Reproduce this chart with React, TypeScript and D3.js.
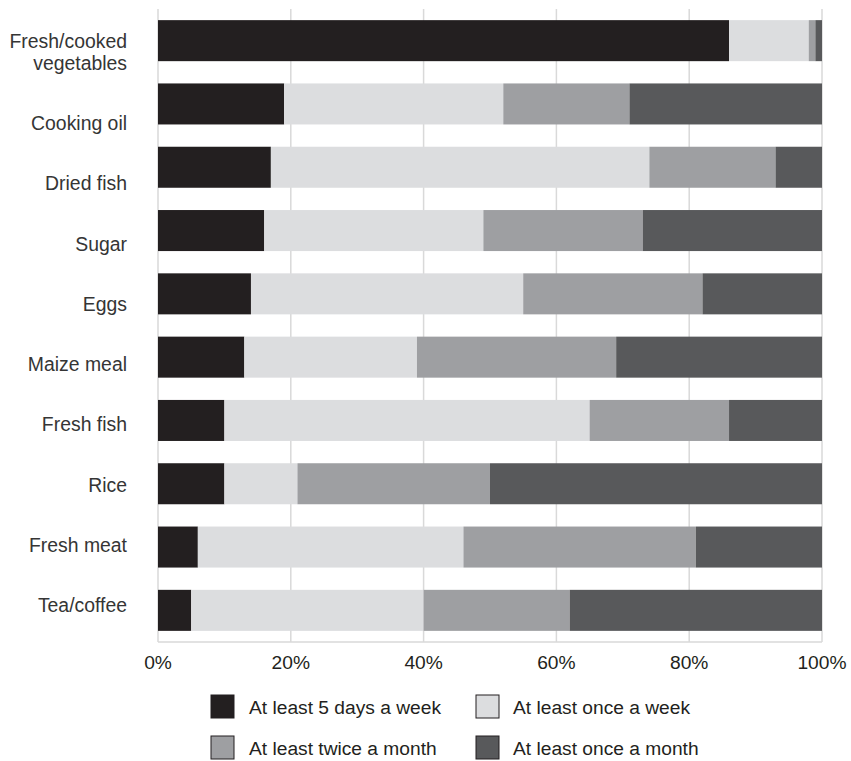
import React from "react";
import * as d3 from "d3";

const categories = [
  "Fresh/cooked vegetables",
  "Cooking oil",
  "Dried fish",
  "Sugar",
  "Eggs",
  "Maize meal",
  "Fresh fish",
  "Rice",
  "Fresh meat",
  "Tea/coffee",
];

const seriesNames = [
  "At least 5 days a week",
  "At least once a week",
  "At least twice a month",
  "At least once a month",
];

const fiveDays = [86, 19, 17, 16, 14, 13, 10, 10, 6, 5];
const onceWeek = [12, 33, 57, 33, 41, 26, 55, 11, 40, 35];
const twiceMonth = [1, 19, 19, 24, 27, 30, 21, 29, 35, 22];
const onceMonth = [1, 29, 7, 27, 18, 31, 14, 50, 19, 38];

const tickValues = [0, 20, 40, 60, 80, 100];

const colors = ["#231f20", "#dcdddf", "#9e9fa2", "#58595b"];

export default function App() {
  const W = 851;
  const H = 761;
  const x = d3.scaleLinear().domain([0, 100]).range([158, 822]);
  const y = d3
    .scaleBand<string>()
    .domain(categories)
    .range([9, 642])
    .paddingInner(0.352)
    .paddingOuter(0.176);
  const labelY = d3.scalePoint<string>().domain(categories).range([69.75, 612]);

  const rows = categories.map((c, i) => ({
    cat: c,
    s0: fiveDays[i],
    s1: onceWeek[i],
    s2: twiceMonth[i],
    s3: onceMonth[i],
  }));
  const stack = d3.stack<any>().keys(["s0", "s1", "s2", "s3"]);
  const layers = stack(rows);

  const font = "'Liberation Sans', Arial, Helvetica, sans-serif";
  const legendPos = [
    { sx: 211, tx: 249, cy: 706.5 },
    { sx: 476, tx: 513, cy: 706.5 },
    { sx: 211, tx: 249, cy: 747.5 },
    { sx: 476, tx: 513, cy: 747.5 },
  ];

  return (
    <svg
      width={W}
      height={H}
      style={{ position: "absolute", left: 0, top: 0, background: "#fff" }}
      fontFamily={font}
    >
      {tickValues.map((t) => (
        <line
          key={"g" + t}
          x1={x(t)}
          x2={x(t)}
          y1={9}
          y2={642}
          stroke="#d9d9d9"
          strokeWidth={1.5}
        />
      ))}
      <line x1={x(0)} x2={x(100)} y1={642} y2={642} stroke="#d9d9d9" strokeWidth={1.5} />
      {layers.map((layer, li) =>
        layer.map((d, i) => (
          <rect
            key={li + "-" + i}
            x={x(d[0])}
            y={y(categories[i])}
            width={x(d[1]) - x(d[0])}
            height={y.bandwidth()}
            fill={colors[li]}
          />
        ))
      )}
      {categories.map((c) => {
        const parts = c === "Fresh/cooked vegetables" ? ["Fresh/cooked", "vegetables"] : [c];
        const base = labelY(c) as number;
        return (
          <text key={c} textAnchor="end" fontSize={19.4} fill="#353535">
            {parts.map((p, k) => (
              <tspan key={k} x={127} y={base - (parts.length - 1 - k) * 22}>
                {p}
              </tspan>
            ))}
          </text>
        );
      })}
      {tickValues.map((t) => (
        <text
          key={"t" + t}
          x={x(t)}
          y={669}
          textAnchor="middle"
          fontSize={19.2}
          fill="#231f20"
        >
          {t + "%"}
        </text>
      ))}
      {seriesNames.map((n, i) => (
        <g key={n}>
          <rect
            x={legendPos[i].sx}
            y={legendPos[i].cy - 11.5}
            width={23}
            height={23}
            fill={colors[i]}
            stroke="#231f20"
            strokeWidth={1}
          />
          <text x={legendPos[i].tx} y={legendPos[i].cy + 7} fontSize={19.2} fill="#231f20">
            {n}
          </text>
        </g>
      ))}
    </svg>
  );
}
